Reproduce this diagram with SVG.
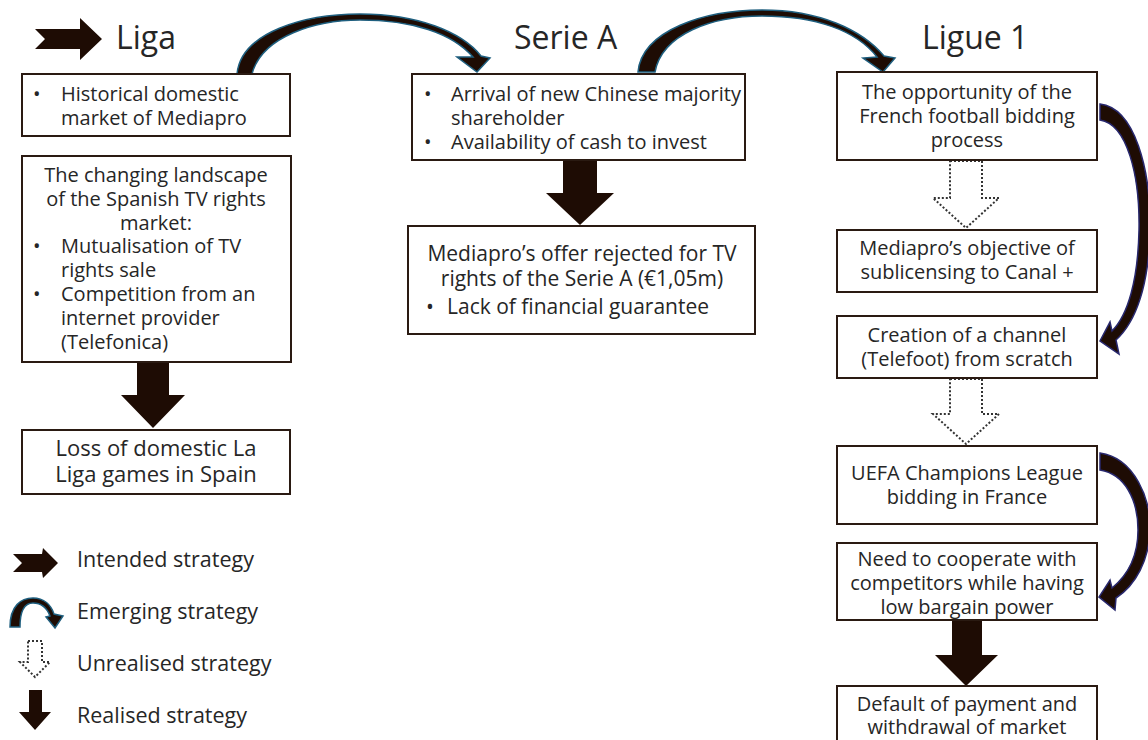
<svg xmlns="http://www.w3.org/2000/svg" width="1148" height="740" viewBox="0 0 1148 740">
<style>
text{font-family:"Open Sans","Noto Sans","Liberation Sans",sans-serif;fill:#262626;font-size:20px}
.h{font-size:32px}
.c{text-anchor:middle}
.lg{font-size:21.5px}
.m{font-size:21px}
.l{font-size:22px}
.box{fill:#fff;stroke:#2a1a12;stroke-width:2}
.solid{fill:#1e0c04}
.dot{fill:#fff;stroke:#333;stroke-width:2;stroke-dasharray:2 2}
.emt{fill:#1e0c04;stroke:#1f5f7f;stroke-width:1.5}
.emn{fill:#1e0c04;stroke:#28286e;stroke-width:1.5}
</style>
<rect width="1148" height="740" fill="#fff"/>

<g id="headers">
<polygon class="solid" points="35,29 80,29 80,18 102,39 80,60 80,49 35,49 45,39"/>
<text class="h" x="116" y="49">Liga</text>
<text class="h" x="514" y="49">Serie A</text>
<text class="h" x="922" y="49">Ligue 1</text>
</g>

<g id="connectors">
<path class="emt" d="M237,74 C241,32 305,14 360,14 C418,14 462,32 481,56 L490,58 L477,72 L457,57 L473,57 C452,33 412,20 360,20 C316,20 262,36 252,74 Z"/>
<path class="emt" d="M638,72 C642,30 705,10 762,10 C820,10 862,30 884,56 L895,58 L883,72 L863,58 L877,57 C856,30 815,16 762,16 C712,16 662,34 655,72 Z"/>
<path class="emn" d="M1100,104 C1135,108 1151,170 1150,230 C1149,285 1136,322 1116,340 L1119,354 L1100,341 L1110,322 L1112,331 C1128,315 1138,280 1139,230 C1140,175 1127,124 1100,120 Z"/>
<path class="emn" d="M1100,453 C1135,458 1151,500 1150,530 C1149,560 1136,585 1116,598 L1115,610 L1099,597 L1110,580 L1112,588 C1128,575 1138,555 1138,530 C1138,500 1125,474 1100,470 Z"/>
<polygon class="solid" points="137,362 169,362 169,395 185,395 153,428 121,395 137,395"/>
<polygon class="solid" points="563,160 597,160 597,193 614,193 580,225 546,193 563,193"/>
<polygon class="solid" points="952,620 982,620 982,655 998,655 966,686 935,655 952,655"/>
<polygon class="dot" points="950,161 982,161 982,198 999,198 966,228 933,198 950,198"/>
<polygon class="dot" points="950,379 982,379 982,414 999,414 966,444 933,414 950,414"/>
</g>

<g id="liga1"><rect class="box" x="22" y="74" width="268" height="62"/>
<text x="33" y="101">•</text><text x="61" y="101">Historical domestic</text><text x="61" y="125">market of Mediapro</text></g>

<g id="liga2"><rect class="box" x="22" y="156" width="269" height="206"/>
<text class="c" x="156" y="182">The changing landscape</text>
<text class="c" x="156" y="206">of the Spanish TV rights</text>
<text class="c" x="156" y="230">market:</text>
<text x="33" y="253">•</text><text x="61" y="253">Mutualisation of TV</text><text x="61" y="277">rights sale</text>
<text x="33" y="301">•</text><text x="61" y="301">Competition from an</text><text x="61" y="325">internet provider</text><text x="61" y="349">(Telefonica)</text></g>

<g id="liga3"><rect class="box" x="22" y="430" width="268" height="64"/>
<text class="c l" x="156" y="456">Loss of domestic La</text><text class="c l" x="156" y="482">Liga games in Spain</text></g>

<g id="seriea1"><rect class="box" x="412" y="74" width="333" height="86"/>
<text x="424" y="101">•</text><text x="451" y="101">Arrival of new Chinese majority</text><text x="451" y="125">shareholder</text>
<text x="424" y="149">•</text><text x="451" y="149">Availability of cash to invest</text></g>

<g id="seriea2"><rect class="box" x="408" y="226" width="347" height="108"/>
<text class="c m" x="582" y="261">Mediapro’s offer rejected for TV</text>
<text class="c m" x="582" y="286">rights of the Serie A (€1,05m)</text>
<text class="m" x="426" y="314">•</text><text class="m" x="447" y="314">Lack of financial guarantee</text></g>

<g id="ligue1a"><rect class="box" x="837" y="72" width="260" height="88"/>
<text class="c" x="967" y="99">The opportunity of the</text><text class="c" x="967" y="123">French football bidding</text><text class="c" x="967" y="147">process</text></g>

<g id="ligue1b"><rect class="box" x="837" y="230" width="260" height="62"/>
<text class="c" x="967" y="255">Mediapro’s objective of</text><text class="c" x="967" y="279">sublicensing to Canal +</text></g>

<g id="ligue1c"><rect class="box" x="837" y="316" width="260" height="62"/>
<text class="c" x="967" y="342">Creation of a channel</text><text class="c" x="967" y="366">(Telefoot) from scratch</text></g>

<g id="ligue1d"><rect class="box" x="837" y="446" width="260" height="78"/>
<text class="c" x="967" y="480">UEFA Champions League</text><text class="c" x="967" y="504">bidding in France</text></g>

<g id="ligue1e"><rect class="box" x="837" y="543" width="260" height="77"/>
<text class="c" x="967" y="566">Need to cooperate with</text><text class="c" x="967" y="590">competitors while having</text><text class="c" x="967" y="614">low bargain power</text></g>

<g id="ligue1f"><rect class="box" x="837" y="686" width="260" height="70"/>
<text class="c" x="967" y="711">Default of payment and</text><text class="c" x="967" y="734">withdrawal of market</text></g>

<g id="legend">
<polygon class="solid" points="13,554 42,554 43,548 58,563 43,578 42,572 13,572 22,563"/>
<text class="lg" x="77" y="567">Intended strategy</text>
<path class="emt" d="M10,627 C10,606 21,598 33,598 C44,598 51,605 54,614 L63,616 L55,628 L46,617 L50,616 C47,608 41,603 33,603 C25,603 20,610 20,627 Z"/>
<text class="lg" x="77" y="619">Emerging strategy</text>
<polygon class="dot" points="28,641 42,641 42,662 50,662 35,677 20,662 28,662"/>
<text class="lg" x="77" y="671">Unrealised strategy</text>
<polygon class="solid" points="29,690 42,690 42,712 51,712 35,730 19,712 29,712"/>
<text class="lg" x="77" y="723">Realised strategy</text>
</g>
</svg>
